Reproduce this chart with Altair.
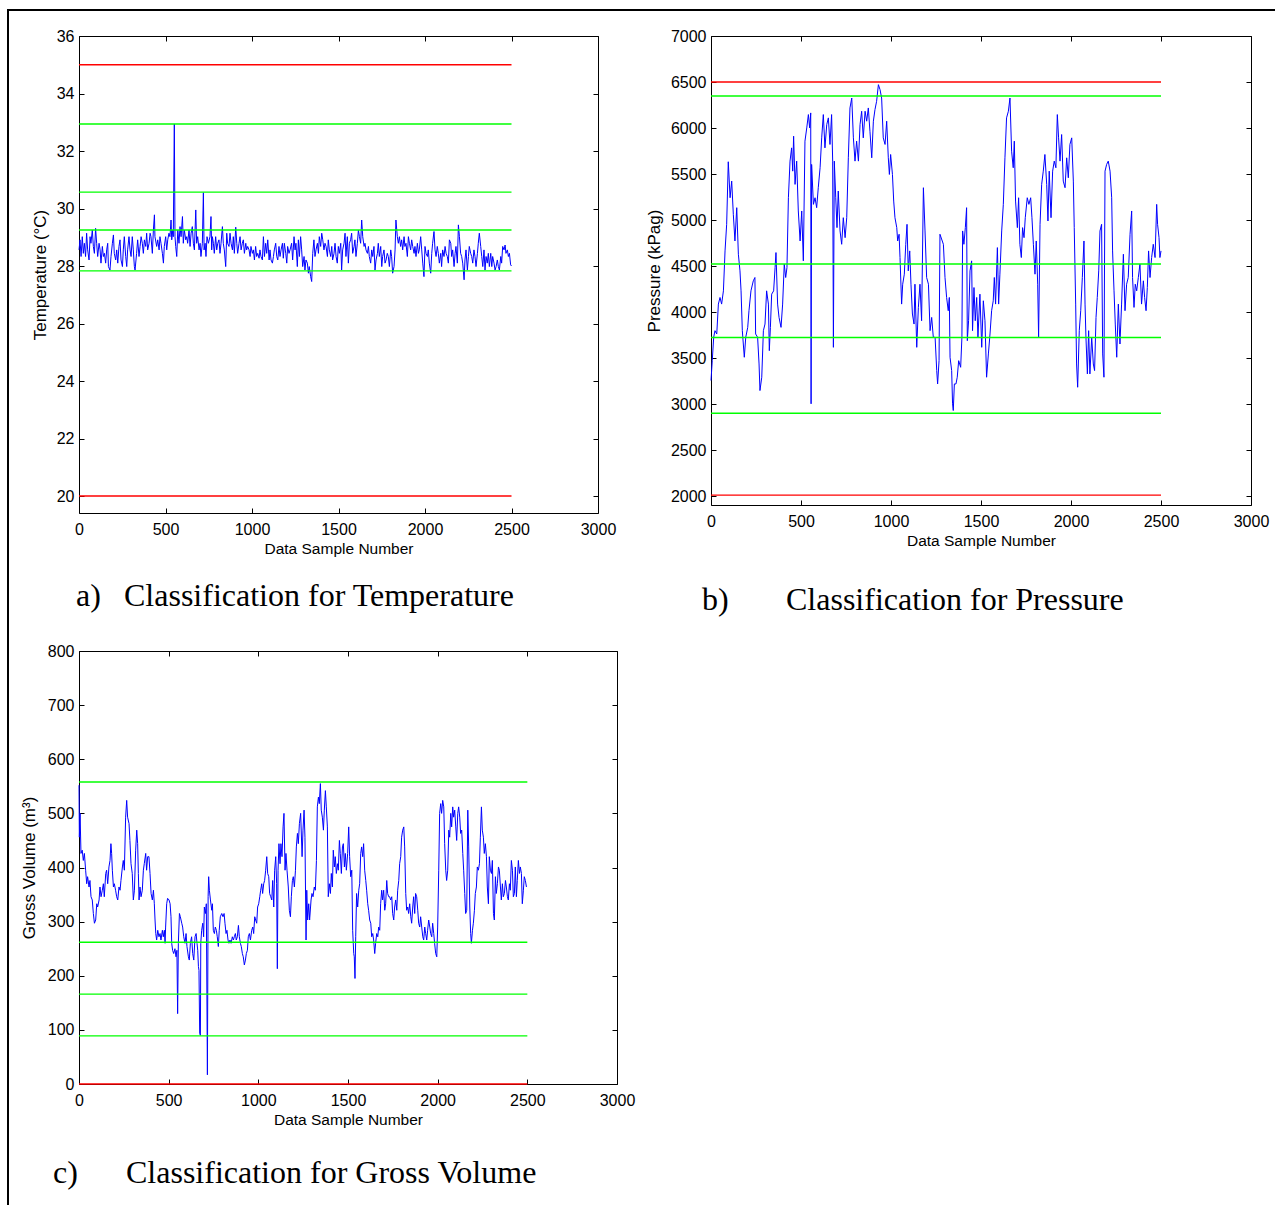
import altair as alt
import pandas as pd

# ---------------- Temperature (°C) ----------------
TEMP_SAMPLE = [
    0, 6, 12, 19, 25, 31, 38, 44, 50, 58,
    64, 69, 77, 83, 89, 96, 102, 108, 116, 122,
    127, 135, 141, 147, 154, 160, 166, 170, 179, 185,
    193, 199, 204, 212, 218, 224, 231, 237, 243, 251,
    256, 262, 270, 276, 281, 289, 295, 301, 308, 314,
    320, 324, 333, 339, 347, 353, 359, 366, 372, 378,
    386, 391, 397, 405, 411, 416, 424, 430, 436, 439,
    449, 455, 463, 468, 474, 482, 488, 493, 501, 507,
    513, 520, 526, 532, 536, 542, 545, 551, 555, 559,
    565, 571, 578, 584, 590, 598, 603, 609, 617, 623,
    628, 636, 642, 648, 655, 661, 667, 675, 680, 686,
    694, 700, 705, 713, 719, 723, 729, 734, 740, 748,
    757, 763, 767, 771, 777, 782, 790, 796, 802, 809,
    815, 821, 829, 834, 840, 848, 854, 859, 867, 873,
    879, 887, 892, 898, 906, 912, 917, 925, 931, 937,
    944, 950, 956, 964, 969, 975, 983, 989, 994, 1002,
    1008, 1014, 1021, 1027, 1033, 1041, 1046, 1052, 1060, 1066,
    1072, 1079, 1085, 1091, 1099, 1104, 1110, 1118, 1124, 1129,
    1137, 1143, 1149, 1156, 1162, 1168, 1176, 1181, 1187, 1195,
    1201, 1206, 1214,
    1220, 1229, 1235, 1243, 1249, 1254, 1262, 1268, 1274, 1281,
    1287, 1293, 1301, 1306, 1312, 1320, 1326, 1331, 1339, 1345,
    1351, 1358, 1364, 1370, 1378, 1384, 1389, 1397, 1403, 1409,
    1416, 1422, 1428, 1436, 1441, 1447, 1455, 1461, 1466, 1474,
    1480, 1486, 1493, 1499, 1505, 1513, 1518, 1524, 1532, 1538,
    1543, 1551, 1557, 1563, 1570, 1576, 1582, 1590, 1595, 1601,
    1609, 1615, 1621, 1628, 1634, 1640, 1648, 1653, 1659, 1667,
    1673, 1678, 1686, 1692, 1698, 1705, 1711, 1717, 1725, 1730,
    1736, 1744, 1750, 1755, 1763, 1769, 1775, 1782, 1788, 1794,
    1802, 1807, 1813, 1821, 1827, 1832, 1840, 1846, 1852, 1859,
    1865, 1871, 1879, 1884, 1890, 1898, 1904, 1910, 1917, 1923,
    1929, 1937, 1942, 1948, 1956, 1962, 1967, 1975, 1981, 1987,
    1994, 2000, 2006, 2014, 2019, 2025, 2033, 2039, 2044, 2052,
    2058, 2064, 2071, 2077, 2083, 2091, 2096, 2102, 2110, 2116,
    2122, 2129, 2135, 2141, 2149, 2154, 2160, 2168, 2174, 2179,
    2187, 2193, 2199, 2206, 2212, 2218, 2226, 2231, 2237, 2245,
    2251, 2256, 2264, 2270, 2276, 2283, 2289, 2295, 2303, 2308,
    2314, 2322, 2328, 2334, 2341, 2347, 2353, 2360, 2366, 2372,
    2380, 2386, 2391, 2399, 2405, 2411, 2418, 2424, 2430, 2438,
    2443, 2449, 2457, 2463, 2468, 2476, 2482, 2488, 2495, 2500,
]
TEMP_VALUE = [
    28.56, 28.91, 28.33, 29.02, 28.44, 28.79, 28.33, 29.14, 28.56, 28.21,
    29.02, 28.79, 29.25, 28.68, 28.44, 29.31, 28.79, 28.33, 28.79, 28.56,
    28.10, 28.68, 28.33, 28.44, 28.10, 28.56, 28.79, 27.98, 27.86, 28.33,
    28.79, 29.08, 28.44, 28.21, 28.56, 28.10, 28.68, 28.91, 28.21, 27.98,
    28.56, 29.02, 28.33, 27.98, 28.56, 29.02, 28.56, 28.33, 29.02, 28.56,
    27.98, 27.86, 28.44, 28.91, 28.33, 28.68, 29.02, 28.79, 28.44, 28.91,
    28.68, 29.14, 28.56, 28.79, 29.14, 29.02, 28.44, 29.25, 29.78, 29.02,
    28.68, 28.91, 28.56, 29.02, 28.79, 28.44, 28.10, 28.68, 29.02, 28.56,
    28.91, 29.14, 29.02, 29.60, 28.91, 29.25, 29.02, 32.94, 29.02, 28.68,
    28.33, 29.25, 28.79, 29.37, 29.02, 29.72, 28.79, 29.25, 28.91, 29.02,
    28.79, 29.25, 28.68, 29.14, 29.37, 28.79, 28.56, 29.95, 28.79, 29.02,
    28.56, 28.79, 28.33, 28.79, 30.55, 28.56, 28.79, 28.33, 29.02, 28.79,
    29.02, 29.72, 28.56, 29.02, 28.79, 28.44, 29.02, 28.56, 28.79, 28.91,
    28.44, 28.79, 29.37, 28.79, 28.56, 27.98, 29.14, 28.79, 28.68, 29.14,
    28.79, 28.56, 29.02, 28.44, 29.35, 28.79, 28.44, 28.79, 29.02, 28.56,
    28.79, 28.91, 28.44, 28.79, 28.56, 28.68, 28.56, 28.33, 28.68, 28.44,
    28.56, 28.21, 28.68, 28.33, 28.44, 28.27, 28.56, 28.33, 28.21, 29.02,
    28.33, 28.79, 28.44, 28.91, 28.21, 28.56, 28.21, 28.10, 28.33, 28.56,
    28.79, 28.33, 28.21, 28.68, 28.33, 28.56, 28.79, 28.27, 28.79, 28.44,
    28.10, 28.68, 28.44,
    28.56, 28.79, 28.21, 29.02, 28.56, 28.79, 27.98, 28.91, 28.33, 29.02,
    28.56, 27.98, 28.33, 27.86, 28.21, 28.10, 27.75, 27.98, 27.63, 27.46,
    28.44, 28.91, 28.33, 28.56, 28.79, 28.44, 29.02, 28.68, 29.14, 28.91,
    28.56, 28.79, 28.68, 28.33, 28.91, 28.56, 28.33, 28.68, 28.21, 28.44,
    28.79, 28.33, 28.10, 28.68, 28.44, 28.79, 27.86, 28.56, 28.79, 29.14,
    28.33, 29.02, 28.10, 28.79, 28.91, 29.14, 28.44, 28.68, 28.91, 28.33,
    28.79, 29.25, 29.02, 28.79, 29.60, 29.02, 28.68, 28.79, 28.56, 28.44,
    28.68, 28.33, 28.10, 28.56, 28.33, 28.68, 27.86, 28.21, 28.44, 28.79,
    28.33, 28.68, 27.98, 28.33, 28.56, 28.10, 28.21, 28.44, 28.33, 27.98,
    28.56, 28.33, 27.75, 27.98, 28.56, 29.60, 29.02, 28.79, 29.02, 28.68,
    28.91, 28.56, 29.02, 28.68, 28.79, 28.33, 29.02, 28.79, 28.56, 28.91,
    28.68, 28.44, 28.68, 28.33, 28.79, 28.44, 28.56, 29.02, 28.56, 28.10,
    27.63, 28.68, 28.44, 28.33, 28.56, 28.10, 27.75, 28.44, 28.79, 29.20,
    28.56, 28.33, 28.68, 28.44, 28.10, 28.44, 27.98, 28.56, 28.33, 28.68,
    28.44, 28.33, 28.10, 28.91, 28.79, 28.33, 28.56, 27.98, 28.44, 28.68,
    28.10, 29.43, 29.02, 28.44, 28.33, 28.10, 27.52, 28.21, 28.56, 27.86,
    28.33, 28.68, 28.44, 28.33, 28.10, 28.56, 28.33, 27.98, 28.44, 28.79,
    29.14, 28.68, 28.33, 27.98, 28.56, 27.86, 28.33, 28.10, 28.44, 27.98,
    28.44, 27.98, 28.33, 28.10, 27.86, 27.98, 28.21, 27.98, 27.86, 28.33,
    28.10, 28.68, 28.56, 28.73, 28.44, 28.56, 28.33, 28.44, 28.04, 28.00,
]
TEMP_RED = [35.0, 20.0]
TEMP_GREEN = [32.94, 30.57, 29.25, 27.83]
TEMP_TICKS = [20, 22, 24, 26, 28, 30, 32, 34, 36]

# ---------------- Pressure (kPag) ----------------
PRES_SAMPLE = [
    0, 7, 15, 22, 32, 41, 50, 59, 69, 78,
    87, 96, 106, 115, 124, 133, 143, 152, 161, 167,
    174, 185, 193, 204, 211, 222, 235, 244, 248, 259,
    267, 272, 282, 291, 300, 309, 319, 324, 330, 337,
    348, 356, 361, 370, 378, 389, 398, 407, 415, 422,
    430, 439, 448, 454, 459, 467, 476, 485, 495, 504,
    513, 522, 532, 541, 548, 554, 556, 559, 569, 578,
    587, 596, 606, 615, 624, 633, 643, 652, 661, 670,
    676, 680, 685, 693, 700, 707, 717, 726, 735, 745,
    754, 763, 772, 782, 791, 800, 809, 819, 828, 837,
    846, 856, 865, 874, 883, 893, 902, 911, 920, 930,
    939, 948, 957, 967, 976, 985, 991, 998, 1008, 1015,
    1022, 1032, 1037, 1045, 1050, 1059, 1065, 1074, 1082, 1089,
    1096, 1104, 1111, 1119, 1128, 1133, 1143, 1152, 1161, 1170,
    1180, 1189, 1198, 1208, 1217, 1226, 1235, 1245, 1254, 1259,
    1267, 1272, 1291, 1300, 1309, 1318, 1324, 1328, 1337, 1342,
    1346, 1352, 1361, 1368, 1376, 1387, 1394, 1398, 1405, 1413,
    1420, 1424, 1431, 1439, 1448, 1453, 1461, 1468, 1476, 1483,
    1494, 1504, 1513, 1522, 1531, 1541, 1550, 1559, 1568, 1574,
    1581, 1591, 1598, 1605, 1615, 1624, 1633, 1642, 1652, 1661,
    1670, 1679, 1685, 1692, 1702, 1709, 1716, 1724, 1731, 1739,
    1746, 1757, 1766, 1776, 1783, 1791, 1800, 1807, 1815, 1820,
    1828, 1837, 1846, 1855, 1865, 1872, 1879, 1889, 1898, 1907,
    1916, 1924, 1931, 1939, 1948, 1957, 1967, 1976, 1985, 1994,
    2004, 2013, 2018, 2026, 2031, 2037, 2046, 2054, 2063, 2072,
    2078, 2083, 2091, 2098, 2105, 2115, 2124, 2131, 2139, 2146,
    2154, 2161, 2170, 2176, 2183, 2189, 2198, 2207, 2217, 2226,
    2231, 2239, 2246, 2254, 2263, 2272, 2281, 2291, 2300, 2309,
    2318, 2328, 2337, 2342, 2350, 2357, 2365, 2374, 2383, 2392,
    2402, 2409, 2417, 2424, 2431, 2439, 2448, 2457, 2467, 2476,
    2481, 2489, 2494, 2500,
]
PRES_VALUE = [
    3255, 3471, 3725, 3797, 3761, 4086, 4158, 4086, 4230, 4664,
    4953, 5633, 5242, 5423, 5062, 4772, 5134, 4628, 4447, 4230,
    3797, 3508, 3725, 3833, 4014, 4230, 4339, 4375, 3761, 3725,
    3435, 3146, 3291, 3797, 3869, 4230, 4086, 3580, 3833, 4194,
    4230, 4483, 4646, 4086, 3941, 3833, 4086, 4520, 4375, 4483,
    5242, 5640, 5784, 5531, 5911, 5387, 5640, 5098, 4772, 5098,
    4556, 5857, 6001, 6146, 6001, 6164, 3002, 5604, 5170, 5242,
    5134, 5351, 5568, 5893, 6146, 5784, 6037, 6110, 5821, 6146,
    5640, 3616, 5640, 5242, 4917, 5315, 4881, 4736, 5025, 4808,
    5025, 5676, 6218, 6326, 5893, 5640, 5857, 5640, 6037, 6182,
    5893, 6182, 6074, 6218, 5965, 5676, 6074, 6200, 6290, 6471,
    6417, 6326, 5893, 5821, 6074, 5676, 5495, 5712, 5495, 5206,
    5025, 4917, 4772, 4845, 4592, 4086, 4302, 4411, 4736, 4953,
    4447, 4664, 4302, 3978, 3869, 4302, 3616, 4050, 4302, 3905,
    5351, 4881, 4375, 4302, 3797, 3941, 3725, 3725, 3363, 3218,
    3471, 4845, 4736, 4375, 4158, 4014, 4158, 3508, 3363, 3002,
    2929, 3218, 3218, 3291, 3471, 3399, 3725, 4881, 4736, 4917,
    5134, 3688, 3905, 4447, 4556, 3797, 4266, 3905, 4158, 3725,
    4194, 3616, 4122, 3905, 3291, 3544, 3761, 4014, 4122, 4375,
    4086, 4700, 4086, 4411, 4881, 5170, 5676, 6110, 6182, 6326,
    5748, 5568, 5857, 5206, 4917, 5242, 4736, 4592, 4917, 4808,
    5025, 5242, 5170, 5242, 5025, 4736, 4411, 4772, 4302, 3725,
    4953, 5387, 5531, 5712, 5387, 4989, 5531, 5025, 5531, 5640,
    5568, 6146, 5893, 5640, 5929, 5423, 5351, 5676, 5459, 5821,
    5893, 5423, 4917, 4086, 3435, 3182, 3797, 4014, 4375, 4772,
    4086, 3725, 3327, 3797, 3327, 3725, 3435, 3363, 3941, 4158,
    4447, 4881, 4953, 3544, 3291, 5531, 5604, 5640, 5531, 5242,
    4664, 4230, 3869, 3508, 4086, 3652, 4086, 4628, 4014, 4302,
    4375, 4845, 5098, 4375, 4050, 4302, 4230, 4375, 4520, 4086,
    4339, 4158, 4014, 4266, 4664, 4375, 4592, 4736, 4592, 5170,
    4953, 4808, 4592, 4664,
]
PRES_RED = [6500, 2010]
PRES_GREEN = [6348, 4522, 3723, 2900]
PRES_TICKS = [2000, 2500, 3000, 3500, 4000, 4500, 5000, 5500, 6000, 6500, 7000]

# ---------------- Gross volume (m³) ----------------
VOL_SAMPLE = [
    0, 2, 6, 11, 18, 24, 30, 37, 43, 48,
    56, 61, 67, 74, 80, 86, 93, 99, 104, 112,
    117, 123, 130, 136, 141, 149, 154, 160, 167, 173,
    178, 182, 186, 192, 197, 204, 210, 216, 223, 229,
    234, 242, 247, 253, 260, 266, 271, 279, 284, 290,
    297, 303, 309, 316, 322, 327, 331, 335, 340, 346,
    353, 359, 364, 372, 377, 383, 390, 396, 402, 409,
    415, 420, 424, 428, 433, 439, 446, 452, 457, 465,
    470, 476, 480, 483, 489, 494, 502, 508, 513, 517,
    522, 528, 535, 541, 546, 550, 554, 560, 565, 573,
    578, 584, 591, 597, 602, 610, 615, 621, 628, 634,
    640, 647, 653, 658, 662, 666, 669, 673, 677, 679,
    684, 690, 695, 699, 705, 710, 716, 720, 723, 727,
    733, 740, 744, 749, 755, 760, 766, 771, 777, 782,
    788, 796, 803, 809, 814, 820, 825, 831, 836, 842,
    848, 855, 861, 866, 872, 877, 883, 889, 894, 900,
    905, 911, 916, 922, 928, 933, 939, 944, 950, 956,
    963, 969, 974, 980, 985, 991, 996, 1002, 1008, 1013,
    1019, 1024, 1030, 1035, 1041, 1047, 1052, 1058, 1063, 1069,
    1075, 1080, 1086, 1091, 1097, 1102, 1106, 1110, 1115, 1121,
    1126, 1132, 1138, 1143, 1149, 1154, 1160, 1167, 1173, 1179,
    1184, 1190, 1195, 1201, 1207, 1212, 1218, 1223, 1229, 1236,
    1244, 1249, 1255, 1260, 1266, 1270, 1275, 1281, 1286, 1294,
    1299, 1305, 1312, 1318, 1324, 1329, 1335, 1340, 1346, 1351,
    1357, 1363, 1368, 1374, 1379, 1385, 1390, 1396, 1402, 1407,
    1413, 1418, 1424, 1429, 1435, 1441, 1446, 1452, 1457, 1463,
    1469, 1474, 1480, 1485, 1491, 1498, 1504, 1509, 1515, 1521,
    1526, 1532, 1535, 1539, 1543, 1548, 1554, 1560, 1565, 1571,
    1576, 1582, 1587, 1593, 1599, 1604, 1610, 1615, 1621, 1627,
    1632, 1638, 1643, 1649, 1654, 1660, 1666, 1671, 1677, 1682,
    1688, 1693, 1699, 1705, 1710, 1716, 1721, 1727, 1732, 1738,
    1744, 1749, 1755, 1760, 1766, 1772, 1777, 1783, 1788, 1794,
    1799, 1805, 1811, 1816, 1822, 1827, 1833, 1838, 1844, 1850,
    1855, 1861, 1866, 1872, 1877, 1883, 1889, 1894, 1900, 1905,
    1911, 1917, 1922, 1928, 1933, 1939, 1944, 1950, 1956, 1961,
    1967, 1972, 1978, 1983, 1989, 1995, 2000, 2006, 2011, 2017,
    2022, 2028, 2034, 2039, 2045, 2050, 2056, 2062, 2067, 2073,
    2078, 2084, 2089, 2095, 2101, 2106, 2112, 2117, 2123, 2128,
    2134, 2140, 2145, 2151, 2156, 2162, 2168, 2173, 2179, 2184,
    2188, 2194, 2199, 2205, 2210, 2216, 2221, 2227, 2233, 2238,
    2244, 2249, 2255, 2260, 2266, 2272, 2277, 2283, 2288, 2294,
    2300, 2305, 2311, 2316, 2322, 2327, 2333, 2339, 2344, 2350,
    2355, 2361, 2366, 2372, 2378, 2383, 2389, 2394, 2400, 2405,
    2411, 2417, 2422, 2428, 2433, 2439, 2444, 2450, 2456, 2461,
    2467, 2472, 2478, 2483, 2489, 2495,
]
VOL_VALUE = [
    552, 456, 500, 426, 432, 413, 426, 395, 370, 383,
    364, 376, 346, 340, 315, 297, 303, 333, 327, 340,
    364, 346, 358, 370, 346, 389, 395, 370, 401, 413,
    444, 426, 395, 364, 370, 358, 346, 340, 364, 358,
    376, 401, 413, 395, 493, 524, 493, 481, 450, 407,
    389, 340, 358, 432, 469, 444, 389, 340, 364, 346,
    358, 395, 407, 426, 395, 420, 420, 389, 352, 340,
    358, 333, 303, 278, 266, 284, 272, 278, 266, 284,
    272, 284, 260, 290, 333, 343, 340, 333, 309, 260,
    247, 241, 250, 235, 247, 130, 260, 315, 309, 297,
    290, 272, 260, 278, 254, 235, 229, 260, 272, 241,
    229, 272, 278, 260, 247, 217, 210, 93, 90, 260,
    284, 297, 272, 327, 315, 333, 17, 346, 383, 358,
    340, 321, 333, 284, 278, 290, 284, 272, 254, 284,
    309, 315, 309, 315, 297, 278, 284, 266, 260, 266,
    260, 272, 266, 272, 278, 266, 272, 293, 272, 260,
    254, 241, 235, 220, 229, 241, 247, 272, 278, 266,
    284, 290, 278, 309, 303, 297, 327, 333, 346, 358,
    370, 352, 370, 376, 395, 420, 389, 383, 352, 346,
    340, 376, 327, 395, 420, 370, 213, 395, 444, 407,
    444, 420, 475, 500, 395, 426, 395, 364, 321, 309,
    346, 376, 383, 364, 395, 438, 463, 444, 481, 500,
    420, 469, 506, 456, 266, 358, 303, 333, 303, 340,
    352, 346, 364, 358, 413, 512, 530, 518, 555, 506,
    493, 469, 506, 542, 512, 475, 346, 370, 352, 389,
    364, 432, 401, 420, 389, 407, 395, 450, 426, 389,
    438, 444, 401, 426, 395, 426, 475, 420, 383, 395,
    284, 241, 235, 195, 272, 352, 327, 358, 370, 426,
    438, 420, 444, 395, 376, 358, 333, 321, 303, 297,
    272, 278, 266, 241, 260, 278, 272, 290, 284, 333,
    358, 340, 358, 321, 333, 376, 352, 346, 346, 340,
    346, 315, 303, 327, 340, 321, 358, 376, 407, 420,
    456, 469, 475, 438, 352, 321, 327, 315, 333, 309,
    297, 327, 346, 315, 352, 346, 321, 297, 290, 309,
    290, 272, 266, 290, 278, 266, 284, 303, 290, 278,
    272, 297, 278, 260, 241, 235, 290, 395, 500, 518,
    500, 524, 512, 444, 395, 376, 395, 469, 456, 500,
    475, 512, 493, 506, 475, 450, 500, 512, 493, 463,
    469, 426, 395, 352, 315, 321, 506, 438, 327, 278,
    260, 284, 297, 321, 352, 364, 401, 395, 407, 456,
    512, 469, 456, 426, 444, 420, 364, 333, 420, 395,
    389, 413, 315, 303, 383, 352, 370, 401, 395, 364,
    340, 370, 346, 352, 376, 364, 346, 340, 370, 358,
    413, 395, 346, 352, 401, 346, 376, 413, 389, 401,
    389, 333, 358, 383, 376, 364,
]
VOL_RED = [0]
VOL_GREEN = [558, 262, 166, 89]
VOL_TICKS = [0, 100, 200, 300, 400, 500, 600, 700, 800]

SAMPLE_TICKS = [0, 500, 1000, 1500, 2000, 2500, 3000]
LIMIT_START, LIMIT_END = 0, 2500

SANS = "Liberation Sans"
SERIF = "Liberation Serif"
TICK = 5  # inward tick length, px
BLUE, GREEN, RED = "#0000ff", "#00ff00", "#ff0000"


def make_axis(orient, values, title=None, labels=True, label_pad=5,
              title_pad=4, title_size=15.5):
    return alt.Axis(
        orient=orient, values=values, format="d",
        offset=-TICK, tickSize=TICK, tickColor="black", tickWidth=1,
        domain=False, grid=False, labels=labels,
        labelFlush=False, labelOverlap=False,
        labelFont=SANS, labelFontSize=16, labelColor="black", labelPadding=label_pad,
        title=title,
        titleFont=SANS, titleFontSize=title_size, titleFontWeight="normal",
        titleColor="black", titlePadding=title_pad,
    )


def caption_text(text, x, y):
    return alt.Chart(pd.DataFrame({"t": [text]})).mark_text(
        font=SERIF, fontSize=32, align="left", baseline="alphabetic", color="black"
    ).encode(x=alt.value(x), y=alt.value(y), text="t:N")


def panel(sample, value, red, green, y_domain, y_ticks, width, height,
          y_title, tag, caption, tag_x, cap_x, cap_y, y_title_pad=8, extra=()):
    xs = alt.Scale(domain=[0, 3000], nice=False, zero=False)
    ys = alt.Scale(domain=y_domain, nice=False, zero=False)
    series = pd.DataFrame({"sample": sample, "value": value})
    limits = pd.DataFrame({
        "level": red + green,
        "color": [RED] * len(red) + [GREEN] * len(green),
        "start": LIMIT_START,
        "end": LIMIT_END,
    })

    line = alt.Chart(series).mark_line(color=BLUE, strokeWidth=1).encode(
        x=alt.X("sample:Q", scale=xs,
                axis=make_axis("bottom", SAMPLE_TICKS, "Data Sample Number",
                               label_pad=8, title_pad=4)),
        y=alt.Y("value:Q", scale=ys,
                axis=make_axis("left", y_ticks, y_title, label_pad=5,
                               title_pad=y_title_pad, title_size=17)),
    )
    rules = alt.Chart(limits).mark_rule(strokeWidth=1.4).encode(
        x=alt.X("start:Q", scale=xs, axis=None),
        x2="end:Q",
        y=alt.Y("level:Q", scale=ys, axis=None),
        color=alt.Color("color:N", scale=None),
    )
    # mirrored ticks on the top and right edges of the box
    mirror = alt.Chart(series).mark_line(opacity=0).encode(
        x=alt.X("sample:Q", scale=xs, axis=make_axis("top", SAMPLE_TICKS, labels=False)),
        y=alt.Y("value:Q", scale=ys, axis=make_axis("right", y_ticks, labels=False)),
    )
    layers = [line, rules, mirror,
              caption_text(tag, tag_x, cap_y),
              caption_text(caption, cap_x, cap_y), *extra]
    return (
        alt.layer(*layers)
        .resolve_scale(x="shared", y="shared")
        .resolve_axis(x="independent", y="independent")
        .properties(width=width, height=height)
    )


# outer figure frame (left and top edges)
one = pd.DataFrame({"k": [0]})
frame_left = alt.Chart(one).mark_rule(color="black", strokeWidth=2).encode(
    x=alt.value(-71), y=alt.value(-27), y2=alt.value(1169))
frame_top = alt.Chart(one).mark_rule(color="black", strokeWidth=2).encode(
    x=alt.value(-72), x2=alt.value(1196), y=alt.value(-26))

A_H = 477
B_H = 469
temp_panel = panel(TEMP_SAMPLE, TEMP_VALUE, TEMP_RED, TEMP_GREEN,
                   [36 - A_H / 28.75, 36], TEMP_TICKS, 519, A_H,
                   "Temperature (°C)", "a)", "Classification for Temperature",
                   -3, 45, 570, y_title_pad=7, extra=(frame_left, frame_top))
pres_panel = panel(PRES_SAMPLE, PRES_VALUE, PRES_RED, PRES_GREEN,
                   [7000 - B_H * 500 / 46, 7000], PRES_TICKS, 540, B_H,
                   "Pressure (kPag)", "b)", "Classification for Pressure",
                   -9, 75, 574, y_title_pad=7)
vol_panel = panel(VOL_SAMPLE, VOL_VALUE, VOL_RED, VOL_GREEN,
                  [0, 800], VOL_TICKS, 538, 433,
                  "Gross Volume (m³)", "c)", "Classification for Gross Volume",
                  -26, 47, 532, y_title_pad=9)

chart = (
    alt.concat(temp_panel, pres_panel, vol_panel, columns=2,
               spacing={"row": 615 - A_H, "column": 94},
               bounds="flush", align="each")
    .properties(padding={"left": 5, "top": 7, "right": 0, "bottom": 0})
    .configure_view(stroke="black", strokeWidth=1)
)

chart.save("out.html", embed_options={"renderer": "svg", "actions": False})
